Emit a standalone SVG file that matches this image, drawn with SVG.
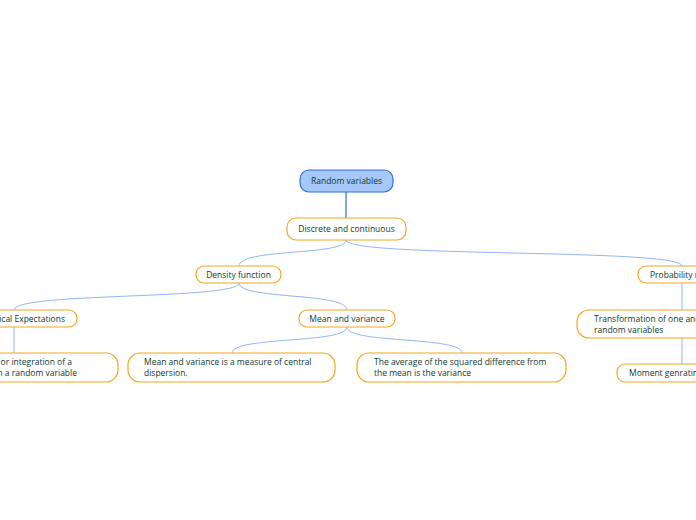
<svg xmlns="http://www.w3.org/2000/svg" width="696" height="520" viewBox="0 0 696 520">
<style>
.n{fill:#fff;stroke:#f5a623;stroke-width:1.2}
.r{fill:#a6c8f8;stroke:#2f6fe0;stroke-width:1.2}
text{font-family:"Open Sans","Noto Sans",sans-serif;font-size:8.5px;fill:#10382c}
.c{fill:none;stroke:#94b4f7;stroke-width:1}
</style>
<rect width="696" height="520" fill="#fff"/>
<g id="connectors">
<path d="M346 192V218" stroke="#2f6fe0" stroke-width="1.2" fill="none"/>
<path class="c" d="M346 240C346 256 239 248 239 266"/>
<path class="c" d="M346 240C346 258 682 248 682 266"/>
<path class="c" d="M239 283C239 300 14 292 14 310"/>
<path class="c" d="M239 283C239 300 347 292 347 310"/>
<path class="c" d="M14 327V353"/>
<path class="c" d="M347 327C347 344 232 336 232 353"/>
<path class="c" d="M347 327C347 344 462 336 462 353"/>
<path class="c" d="M682 283V310"/>
<path class="c" d="M682 338V364"/>
</g>
<g id="root"><rect class="r" x="300" y="170" width="93" height="22" rx="9"/><text x="346.5" y="184" text-anchor="middle">Random variables</text></g>
<g id="discrete"><rect class="n" x="287" y="218" width="119" height="22" rx="9"/><text x="346.5" y="232" text-anchor="middle">Discrete and continuous</text></g>
<g id="density"><rect class="n" x="196" y="266" width="85" height="17" rx="8"/><text x="238.5" y="277.5" text-anchor="middle">Density function</text></g>
<g id="probability"><rect class="n" x="638" y="266" width="80" height="17" rx="8"/><text x="650" y="277.5">Probability models</text></g>
<g id="expectations"><rect class="n" x="-50" y="310" width="127" height="17" rx="8"/><text x="65" y="321.5" text-anchor="end">Mathematical Expectations</text></g>
<g id="meanvar"><rect class="n" x="299" y="310" width="96" height="17" rx="8"/><text x="347" y="321.5" text-anchor="middle">Mean and variance</text></g>
<g id="summation"><rect class="n" x="-100" y="353" width="218" height="29" rx="12"/><text x="72" y="365" text-anchor="end">Summation or integration of a</text><text x="77" y="376" text-anchor="end">function from a random variable</text></g>
<g id="measure"><rect class="n" x="128" y="353" width="207" height="29" rx="12"/><text x="144" y="365">Mean and variance is a measure of central</text><text x="144" y="376">dispersion.</text></g>
<g id="average"><rect class="n" x="357" y="353" width="209" height="29" rx="12"/><text x="374" y="365">The average of the squared difference from</text><text x="374" y="376">the mean is the variance</text></g>
<g id="transformation"><rect class="n" x="577" y="310" width="140" height="28" rx="12"/><text x="594" y="321.5">Transformation of one and two</text><text x="594" y="332.5">random variables</text></g>
<g id="moment"><rect class="n" x="617" y="364" width="100" height="18" rx="8"/><text x="629" y="376">Moment genrating function</text></g>
</svg>
